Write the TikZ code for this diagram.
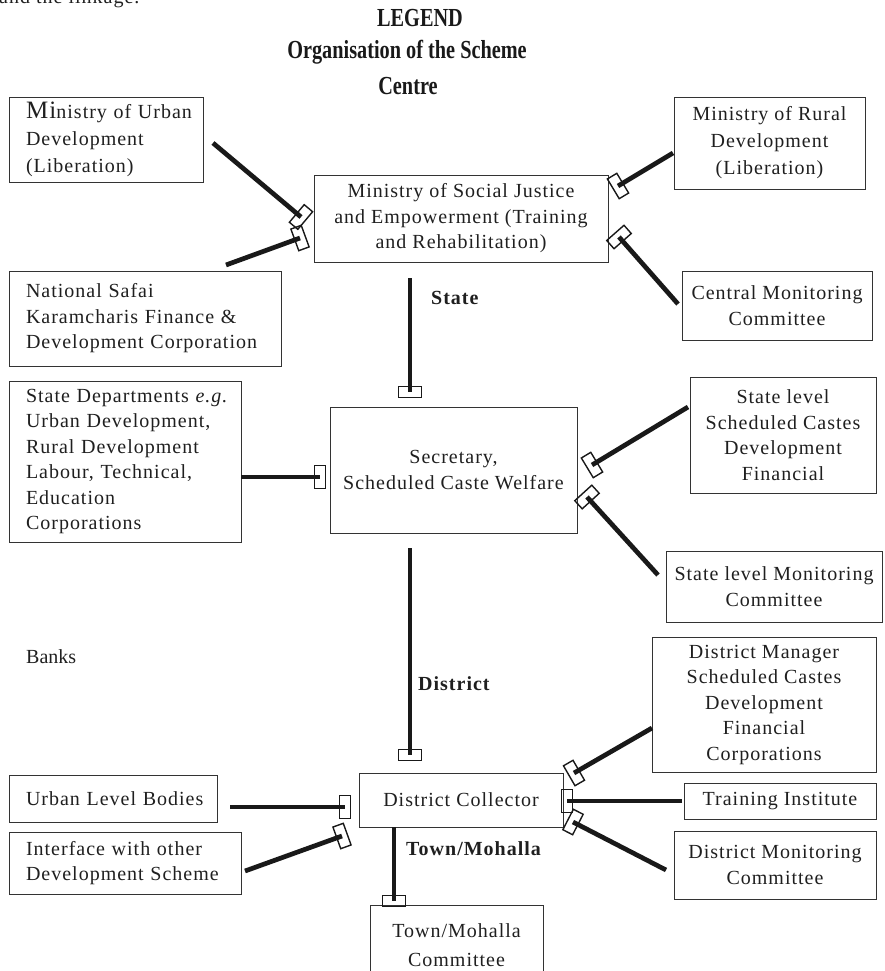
\documentclass[tikz,border=0pt]{standalone}
\usepackage{fontspec}
\setmainfont{Liberation Serif}[LetterSpace=5]
\newfontfamily\titlefont{Liberation Serif}[FakeStretch=0.78]
\newfontfamily\plainfont{Liberation Serif}
\begin{document}
\begin{tikzpicture}[x=1pt,y=-1pt,
  box/.style={draw=black!80, line width=0.9pt, inner sep=0pt, align=center,
    font=\fontsize{20}{25.5}\selectfont, text=black!88},
  lbox/.style={box, align=left, inner xsep=17pt},
  conn/.style={line width=4.7pt, draw=black!90},
  mk/.style={draw=black!90, line width=1.4pt, minimum width=11pt, minimum height=23pt,
    inner sep=0pt, sloped, pos=1, shape=rectangle},
  lvl/.style={font=\fontsize{20}{24}\selectfont\bfseries, text=black!88, inner sep=0pt, anchor=west},
  ttl/.style={font=\titlefont\bfseries\fontsize{26}{30}\selectfont, text=black!90, inner sep=0pt}]
\useasboundingbox (0,0) rectangle (884,971);
\clip (0,0) rectangle (884,971);

% partially visible line of the page above
\node[anchor=base west, inner sep=0pt, font=\fontsize{20}{24}\selectfont, text=black!88] (prev) at (-1,4) {and the linkage.};

% titles
\node[ttl] (t1) at (420,18) {LEGEND};
\node[ttl] (t2) at (407,52) {Organisation of the Scheme};
\node[ttl] (t3) at (408,86) {Centre};

% boxes
\node[lbox, minimum width=194pt, minimum height=85pt, text width=160pt, font=\fontsize{20}{27}\selectfont] (A) at (106,139.5)
  {\mbox{{\fontsize{25}{25}\selectfont Mi}nistry of Urban}\\\mbox{Development}\\\mbox{(Liberation)}};
\node[box, minimum width=294pt, minimum height=87pt] (B) at (461,218.5)
  {Ministry of Social Justice\\and Empowerment (Training\\and Rehabilitation)};
\node[box, minimum width=191pt, minimum height=92pt, font=\fontsize{20}{27}\selectfont] (C) at (769.5,143)
  {Ministry of Rural\\Development\\(Liberation)};
\node[lbox, minimum width=272pt, minimum height=95pt, text width=238pt] (D) at (145,318.5)
  {\mbox{National Safai}\\\mbox{Karamcharis Finance \&}\\\mbox{Development Corporation}};
\node[box, minimum width=190pt, minimum height=69pt] (E) at (777,305.5)
  {Central Monitoring\\Committee};
\node[lbox, minimum width=232pt, minimum height=161pt, text width=198pt] (F) at (125,461.5)
  {\mbox{State Departments \textit{e.g.}}\\\mbox{Urban Development,}\\\mbox{Rural Development}\\\mbox{Labour, Technical,}\\\mbox{Education}\\\mbox{Corporations}};
\node[box, minimum width=247pt, minimum height=126pt] (G) at (453.5,470)
  {Secretary,\\Scheduled Caste Welfare};
\node[box, minimum width=186pt, minimum height=116pt] (H) at (783,435)
  {State level\\Scheduled Castes\\Development\\Financial};
\node[box, minimum width=216pt, minimum height=71pt] (I) at (774,586.5)
  {State level Monitoring\\Committee};
\node[box, minimum width=224pt, minimum height=135pt] (J) at (764,704.5)
  {District Manager\\Scheduled Castes\\Development\\Financial\\Corporations};
\node[box, minimum width=192pt, minimum height=36pt] (K) at (780,801)
  {Training Institute};
\node[box, minimum width=202pt, minimum height=68pt] (L) at (775,865)
  {District Monitoring\\Committee};
\node[box, minimum width=204pt, minimum height=54pt] (M) at (461,800)
  {District Collector};
\node[lbox, minimum width=208pt, minimum height=47pt, text width=174pt] (N) at (113,798.5)
  {\mbox{Urban Level Bodies}};
\node[lbox, minimum width=232pt, minimum height=62pt, text width=198pt] (O) at (125,863)
  {\mbox{Interface with other}\\\mbox{Development Scheme}};
\node[box, minimum width=173pt, minimum height=80pt, font=\fontsize{20}{29}\selectfont] (P) at (456.5,945)
  {Town/Mohalla\\Committee};

% free labels
\node[lvl] (lstate) at (431,298) {State};
\node[lvl] (ldistrict) at (418,684) {District};
\node[lvl] (ltown) at (406,849) {Town/Mohalla};
\node[anchor=west, inner sep=0pt, font=\plainfont\fontsize{20}{24}\selectfont, text=black!88] (banks) at (26,657) {Banks};

% connector end points
\coordinate (sA) at (213,143);  \coordinate (eA) at (301,217);
\coordinate (sD) at (226,265);  \coordinate (eD) at (300,238);
\coordinate (sC) at (673,153);  \coordinate (eC) at (618,186);
\coordinate (sE) at (678,304);  \coordinate (eE) at (619,237);
\coordinate (sB) at (410,278);  \coordinate (eB) at (410,392);
\coordinate (sF) at (241,477);  \coordinate (eF) at (320,477);
\coordinate (sH) at (688,407);  \coordinate (eH) at (592,465);
\coordinate (sI) at (658,575);  \coordinate (eI) at (587,497);
\coordinate (sG) at (410,548);  \coordinate (eG) at (410,755);
\coordinate (sN) at (230,807);  \coordinate (eN) at (345,807);
\coordinate (sO) at (245,871);  \coordinate (eO) at (342,836);
\coordinate (sJ) at (652,728);  \coordinate (eJ) at (574,773);
\coordinate (sK) at (682,801);  \coordinate (eK) at (567,801);
\coordinate (sL) at (666,870);  \coordinate (eL) at (573,822);
\coordinate (sM) at (394,827);  \coordinate (eM) at (394,901);

% connectors
\draw[conn] (sA) -- (eA) node[mk] (mA) {};
\draw[conn] (sD) -- (eD) node[mk] (mD) {};
\draw[conn] (sC) -- (eC) node[mk] (mC) {};
\draw[conn] (sE) -- (eE) node[mk] (mE) {};
\draw[conn] (sB) -- (eB) node[mk] (mB) {};
\draw[conn] (sF) -- (eF) node[mk] (mF) {};
\draw[conn] (sH) -- (eH) node[mk] (mH) {};
\draw[conn] (sI) -- (eI) node[mk] (mI) {};
\draw[conn] (sG) -- (eG) node[mk] (mG) {};
\draw[conn] (sN) -- (eN) node[mk] (mN) {};
\draw[conn] (sO) -- (eO) node[mk] (mO) {};
\draw[conn] (sJ) -- (eJ) node[mk] (mJ) {};
\draw[conn] (sK) -- (eK) node[mk] (mK) {};
\draw[conn] (sL) -- (eL) node[mk] (mL) {};
\draw[conn] (sM) -- (eM) node[mk] (mM) {};
\end{tikzpicture}
\end{document}
